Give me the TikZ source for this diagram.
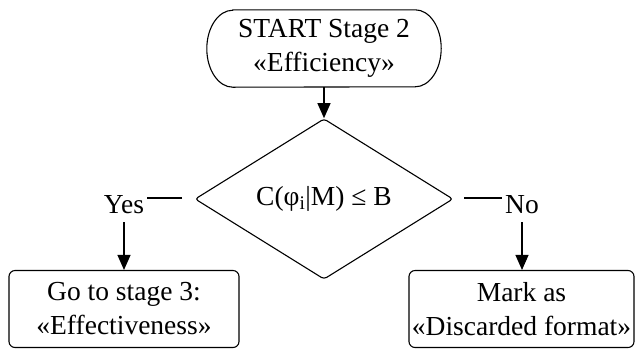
\documentclass[tikz,border=0pt]{standalone}
\usepackage{fontspec}
\setmainfont{Liberation Serif}
\usetikzlibrary{shapes.geometric,arrows.meta}
\begin{document}
\begin{tikzpicture}[x=1pt,y=-1pt,
  every node/.style={font=\fontsize{27.5}{34}\selectfont},
  arr/.style={line width=1.1pt, -{Triangle[length=15pt,width=13pt]}},
  terminal/.style={minimum width=234pt, minimum height=77pt, align=center, inner sep=0pt},
  decision/.style={draw, diamond, line width=1.1pt, rounded corners=3pt, minimum width=258pt, minimum height=116pt, inner sep=0pt},
  process/.style={draw, line width=1.1pt, rounded corners=6pt, minimum height=77pt, align=center, inner sep=0pt},
  branch/.style={inner xsep=3pt, inner ysep=9pt, anchor=base}]
  \useasboundingbox (0,0) rectangle (636,349);

  % shapes
  \node[terminal] (start) at (324,48.5) {START Stage 2\\«Efficiency»};
  % pill outline of the start terminal with elliptic ends
  \draw[line width=1.1pt] ([xshift=26pt]start.north west) -- ([xshift=-26pt]start.north east)
    arc(90:-90:26pt and 38.5pt) -- ([xshift=26pt]start.south west)
    arc(270:90:26pt and 38.5pt) -- cycle;
  \node[decision] (dec) at (324,199) {C(φ\textsubscript{i}|M) ≤ B};
  \node[process, minimum width=230pt] (yesbox) at (124,309) {Go to stage 3:\\«Effectiveness»};
  \node[process, minimum width=225pt] (nobox) at (521.5,309) {Mark as\\«Discarded format»};

  % branch labels
  \node[branch] (yes) at (124,213) {Yes};
  \node[branch] (no) at (522,213) {No};

  % loose ends of the branch lines next to the diamond tips
  \coordinate (yesgap) at (182,198);
  \coordinate (nogap) at (464,198);

  % connectors
  \draw[arr] (start.south) -- (dec.north);
  \draw[line width=1.1pt] (yesgap) -- (yesgap -| yes.east);
  \draw[line width=1.1pt] (nogap) -- (nogap -| no.west);
  \draw[arr] (yes.south) -- (yesbox.north);
  \draw[arr] (no.south) -- (no.south |- nobox.north);
\end{tikzpicture}
\end{document}
